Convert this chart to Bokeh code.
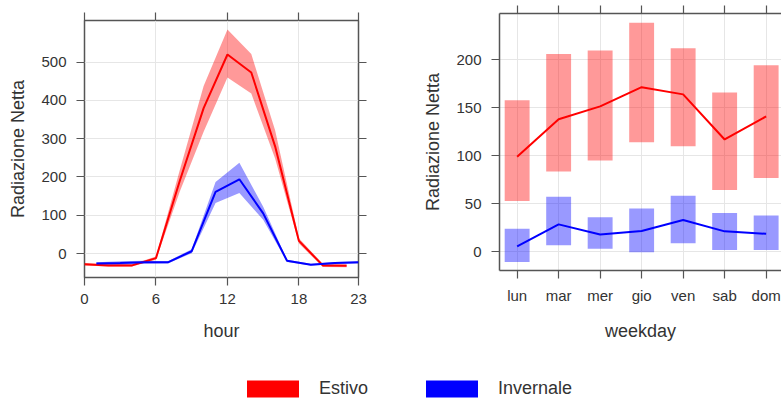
from bokeh.plotting import figure
from bokeh.models import Range1d, LinearAxis, FixedTicker, Legend, LegendItem
from bokeh.layouts import row, column
from bokeh.embed import file_html
from bokeh.resources import INLINE

# ---------------- data ----------------
# hourly profile (Estivo = even hours, Invernale = odd hours)
hours_estivo = [0, 2, 4, 6, 8, 10, 12, 14, 16, 18, 20, 22]
estivo_mean = [-28, -31, -31, -12, 190, 380, 520, 473, 280, 33, -31, -32]
estivo_low = [-31, -34, -34, -16, 162, 318, 460, 418, 248, 26, -35, -36]
estivo_high = [-25, -28, -28, -8, 218, 438, 585, 521, 322, 40, -27, -28]

hours_invernale = [1, 3, 5, 7, 9, 11, 13, 15, 17, 19, 21, 23]
invernale_mean = [-26, -25, -23, -23, 6, 161, 194, 105, -19, -29, -25, -23]
invernale_low = [-29, -30, -27, -26, 1, 132, 158, 88, -22, -31, -28, -26]
invernale_high = [-23, -20, -19, -20, 11, 187, 237, 122, -16, -27, -22, -21]

# weekday profile
days = ["lun", "mar", "mer", "gio", "ven", "sab", "dom"]
estivo_day_mean = [99, 138, 151.5, 171.5, 164, 117, 141]
estivo_day_low = [52.8, 83.6, 95, 114, 109.8, 64.4, 76.7]
estivo_day_high = [158, 206, 209.8, 238.7, 212, 165.9, 194.4]
invernale_day_mean = [5.6, 28.5, 18, 21.5, 33, 21.2, 18.7]
invernale_day_low = [-10.8, 6.6, 3.1, -0.7, 8.7, 1.7, 1.7]
invernale_day_high = [24, 57.3, 35.8, 45, 58.3, 40.3, 37.8]

hour_ticks = [0, 6, 12, 18, 23]
hour_yticks = [0, 100, 200, 300, 400, 500]
day_yticks = [0, 50, 100, 150, 200]
series_names = ["Estivo", "Invernale"]

# ---------------- style ----------------
FONT = "Liberation Sans"
TXT = "#333333"
FRAME = "#555555"
GRID = "#e6e6e6"
RED = "#ff0000"
BLUE = "#0000ff"


def style_axis(ax, labels=True, line=False):
    ax.axis_line_color = FRAME if line else None
    ax.axis_line_width = 1.5
    ax.major_tick_line_color = FRAME
    ax.major_tick_line_width = 1.2
    ax.major_tick_out = 8
    ax.major_tick_in = 0
    ax.minor_tick_line_color = None
    ax.major_label_text_font = FONT
    ax.major_label_text_font_size = "15px"
    ax.major_label_text_color = TXT
    ax.major_label_standoff = 8
    ax.axis_label_text_font = FONT
    ax.axis_label_text_font_size = "18px"
    ax.axis_label_text_font_style = "normal"
    ax.axis_label_text_color = TXT
    ax.axis_label_standoff = 14
    if not labels:
        ax.major_label_text_font_size = "1px"
        ax.major_label_text_color = None
        ax.major_label_standoff = 0


def base_fig(**kw):
    p = figure(toolbar_location=None, output_backend="svg", **kw)
    p.background_fill_color = "white"
    p.border_fill_color = "white"
    return p


# ---------------- left panel: hour ----------------
p1 = base_fig(frame_width=274, frame_height=257,
              min_border_left=84, min_border_right=62,
              min_border_top=20, min_border_bottom=68,
              x_range=Range1d(0, 23), y_range=Range1d(-62.6, 608.8))
p1.outline_line_color = FRAME
p1.outline_line_width = 1.5
p1.xaxis.ticker = FixedTicker(ticks=hour_ticks)
p1.yaxis.ticker = FixedTicker(ticks=hour_yticks)
p1.xaxis.axis_label = "hour"
p1.yaxis.axis_label = "Radiazione Netta"
for ax in p1.xaxis + p1.yaxis:
    style_axis(ax)
for ax in p1.yaxis:
    ax.major_label_standoff = 10
    ax.axis_label_standoff = 10
top1 = LinearAxis(ticker=FixedTicker(ticks=hour_ticks))
right1 = LinearAxis(ticker=FixedTicker(ticks=hour_yticks))
style_axis(top1, labels=False)
style_axis(right1, labels=False)
p1.add_layout(top1, "above")
p1.add_layout(right1, "right")
p1.xgrid.grid_line_color = GRID
p1.ygrid.grid_line_color = GRID

p1.varea(x=hours_estivo, y1=estivo_low, y2=estivo_high, fill_color=RED, fill_alpha=0.4)
p1.varea(x=hours_invernale, y1=invernale_low, y2=invernale_high, fill_color=BLUE, fill_alpha=0.4)
p1.line(hours_estivo, estivo_mean, line_color=RED, line_width=2)
p1.line(hours_invernale, invernale_mean, line_color=BLUE, line_width=2)

# ---------------- right panel: weekday ----------------
# (frames in a row are aligned by Bokeh; the panel is lifted 7px with CSS)
day_x = list(range(1, len(days) + 1))
p2 = base_fig(frame_width=282, frame_height=257,
              min_border_left=78, min_border_right=0,
              min_border_top=20, min_border_bottom=68,
              x_range=Range1d(0.575, 7.37), y_range=Range1d(-19.6, 248.3))
p2.styles = {"position": "relative", "top": "-7px"}
p2.outline_line_color = None
p2.xaxis.ticker = FixedTicker(ticks=day_x)
p2.xaxis.major_label_overrides = {x: d for x, d in zip(day_x, days)}
p2.yaxis.ticker = FixedTicker(ticks=day_yticks)
p2.xaxis.axis_label = "weekday"
p2.yaxis.axis_label = "Radiazione Netta"
for ax in p2.xaxis + p2.yaxis:
    style_axis(ax, line=True)
for ax in p2.yaxis:
    ax.major_label_standoff = 10
    ax.axis_label_standoff = 10
top2 = LinearAxis(ticker=FixedTicker(ticks=day_x))
style_axis(top2, labels=False, line=True)
p2.add_layout(top2, "above")
p2.xgrid.grid_line_color = GRID
p2.ygrid.grid_line_color = GRID

p2.vbar(x=day_x, top=estivo_day_high, bottom=estivo_day_low, width=0.6,
        fill_color=RED, fill_alpha=0.4, line_color=None)
p2.line(day_x, estivo_day_mean, line_color=RED, line_width=2)
p2.vbar(x=day_x, top=invernale_day_high, bottom=invernale_day_low, width=0.6,
        fill_color=BLUE, fill_alpha=0.4, line_color=None)
p2.line(day_x, invernale_day_mean, line_color=BLUE, line_width=2)

# ---------------- legend strip ----------------
p3 = figure(width=781, height=54, toolbar_location=None, output_backend="svg",
            x_axis_type=None, y_axis_type=None, min_border=0,
            x_range=Range1d(0, 781), y_range=Range1d(0, 54))
p3.outline_line_color = None
p3.xgrid.visible = False
p3.ygrid.visible = False
# zero-size placeholder renderers, only used to carry the legend swatches
r_est = p3.quad(left=[0], right=[0], top=[0], bottom=[0], fill_color=RED, line_color=None)
r_inv = p3.quad(left=[0], right=[0], top=[0], bottom=[0], fill_color=BLUE, line_color=None)
legend = Legend(items=[LegendItem(label=series_names[0], renderers=[r_est]),
                       LegendItem(label=series_names[1], renderers=[r_inv])],
                orientation="horizontal", location=(240, 5),
                glyph_width=65, glyph_height=21, label_standoff=14,
                label_width=100, label_height=21, spacing=0, padding=0, margin=0,
                border_line_color=None, background_fill_alpha=0,
                label_text_font=FONT, label_text_font_size="18px",
                label_text_color=TXT)
p3.add_layout(legend)

layout = column(row(p1, p2), p3)
open("out.html", "w").write(file_html(layout, INLINE))
